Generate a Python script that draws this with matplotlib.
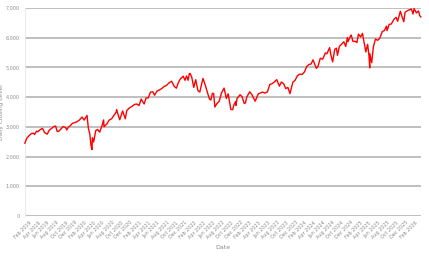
import matplotlib
matplotlib.use("Agg")
import matplotlib.pyplot as plt
import matplotlib.dates as mdates
import matplotlib.ticker as mticker
import pandas as pd

# S&P 500 style daily closing level (approximate)
dates = [
    "2019-01-03", "2019-01-15", "2019-01-31", "2019-02-15", "2019-02-28", "2019-03-08",
    "2019-03-21", "2019-03-29", "2019-04-15", "2019-04-30", "2019-05-13", "2019-05-31",
    "2019-06-14", "2019-06-28", "2019-07-15", "2019-07-26", "2019-08-05", "2019-08-15",
    "2019-08-30", "2019-09-13", "2019-09-30", "2019-10-08", "2019-10-18", "2019-10-31",
    "2019-11-15", "2019-11-29", "2019-12-13", "2019-12-31",
    "2020-01-17", "2020-01-31", "2020-02-19", "2020-02-28", "2020-03-09", "2020-03-16",
    "2020-03-23", "2020-03-26", "2020-04-03", "2020-04-17", "2020-04-30", "2020-05-13",
    "2020-05-29", "2020-06-08", "2020-06-11", "2020-06-30", "2020-07-15", "2020-07-31",
    "2020-08-14", "2020-08-31", "2020-09-02", "2020-09-23", "2020-10-12", "2020-10-30",
    "2020-11-09", "2020-11-27", "2020-12-15", "2020-12-31",
    "2021-01-15", "2021-01-29", "2021-02-12", "2021-03-04", "2021-03-17", "2021-03-31",
    "2021-04-15", "2021-04-30", "2021-05-12", "2021-05-28", "2021-06-15", "2021-06-30",
    "2021-07-15", "2021-07-30", "2021-08-16", "2021-09-02", "2021-09-20", "2021-10-04",
    "2021-10-15", "2021-10-29", "2021-11-18", "2021-11-30", "2021-12-10", "2021-12-20",
    "2021-12-29",
    "2022-01-03", "2022-01-14", "2022-01-27", "2022-02-09", "2022-02-23", "2022-03-08",
    "2022-03-29", "2022-04-14", "2022-04-29", "2022-05-12", "2022-05-20", "2022-05-31",
    "2022-06-08", "2022-06-16", "2022-06-30", "2022-07-15", "2022-07-29", "2022-08-16",
    "2022-08-31", "2022-09-12", "2022-09-30", "2022-10-12", "2022-10-21", "2022-11-01",
    "2022-11-03", "2022-11-10", "2022-11-30", "2022-12-13", "2022-12-28",
    "2023-01-05", "2023-01-13", "2023-02-02", "2023-02-16", "2023-03-10", "2023-03-31",
    "2023-04-14", "2023-04-28", "2023-05-15", "2023-05-31", "2023-06-15", "2023-06-30",
    "2023-07-14", "2023-07-31", "2023-08-18", "2023-08-31", "2023-09-15", "2023-09-29",
    "2023-10-13", "2023-10-27", "2023-11-15", "2023-11-30", "2023-12-15", "2023-12-29",
    "2024-01-16", "2024-01-31", "2024-02-15", "2024-02-29", "2024-03-15", "2024-03-28",
    "2024-04-19", "2024-04-30", "2024-05-15", "2024-05-31", "2024-06-18", "2024-06-28",
    "2024-07-16", "2024-07-24", "2024-08-05", "2024-08-19", "2024-08-30", "2024-09-06",
    "2024-09-19", "2024-09-30", "2024-10-18", "2024-10-31", "2024-11-11", "2024-11-15",
    "2024-11-29", "2024-12-06", "2024-12-18", "2024-12-31",
    "2025-01-13", "2025-01-23", "2025-02-07", "2025-02-19", "2025-03-13", "2025-03-25",
    "2025-04-03", "2025-04-08", "2025-04-09", "2025-04-21", "2025-05-02", "2025-05-16",
    "2025-05-30", "2025-06-13", "2025-06-30", "2025-07-15", "2025-07-28", "2025-08-01",
    "2025-08-15", "2025-08-29", "2025-09-15", "2025-09-30", "2025-10-10", "2025-10-28",
    "2025-11-07", "2025-11-20", "2025-11-28", "2025-12-11", "2025-12-24",
    "2026-01-09", "2026-01-20", "2026-01-27", "2026-02-12", "2026-02-25", "2026-03-06",
    "2026-03-13",
]
closes = [
    2448, 2610, 2704, 2775, 2784, 2743,
    2855, 2834, 2906, 2946, 2812, 2752,
    2887, 2942, 3014, 3026, 2845, 2848,
    2926, 3007, 2977, 2893, 2986, 3038,
    3120, 3141, 3169, 3231,
    3330, 3226, 3386, 2954, 2747, 2386,
    2237, 2630, 2489, 2875, 2912, 2820,
    3044, 3232, 3002, 3100, 3227, 3271,
    3373, 3500, 3580, 3237, 3534, 3270,
    3550, 3638, 3694, 3756,
    3768, 3714, 3934, 3768, 3974, 3973,
    4170, 4181, 4063, 4204, 4246, 4297,
    4360, 4395, 4479, 4537, 4358, 4300,
    4471, 4605, 4704, 4567, 4712, 4568,
    4793,
    4796, 4662, 4326, 4587, 4225, 4170,
    4631, 4392, 4132, 3930, 3901, 4132,
    4116, 3666, 3785, 3863, 4130, 4305,
    3955, 4110, 3586, 3577, 3752, 3856,
    3720, 3956, 4080, 4019, 3783,
    3808, 3999, 4179, 4090, 3862, 4109,
    4137, 4169, 4136, 4180, 4425, 4450,
    4505, 4589, 4370, 4508, 4450, 4288,
    4327, 4117, 4502, 4568, 4719, 4770,
    4766, 4846, 5030, 5096, 5117, 5254,
    4967, 5036, 5308, 5278, 5487, 5460,
    5667, 5427, 5186, 5608, 5648, 5408,
    5713, 5762, 5864, 5705, 6001, 5870,
    6032, 6090, 5872, 5882,
    5836, 6119, 6026, 6144, 5521, 5777,
    5396, 4983, 5457, 5158, 5686, 5958,
    5912, 5977, 6205, 6244, 6390, 6238,
    6450, 6460, 6615, 6688, 6553, 6891,
    6728, 6539, 6849, 6901, 6932,
    6966, 6797, 6978, 6833, 6900, 6740,
    6700,
]

x = pd.to_datetime(dates)

fig = plt.figure(figsize=(4.29, 2.58), dpi=100)
ax = fig.add_axes([0.058, 0.163, 0.923, 0.806])

ax.plot(x, closes, color="#ff0000", lw=1.0, clip_on=False, zorder=3)

ax.set_xlim(x[0], x[-1])
ax.set_ylim(0, 7000)
ax.yaxis.set_major_locator(mticker.MultipleLocator(1000))
ax.yaxis.set_major_formatter(mticker.StrMethodFormatter("{x:,.0f}"))
ax.xaxis.set_major_locator(mdates.MonthLocator(bymonth=[2, 4, 6, 8, 10, 12]))
ax.xaxis.set_major_formatter(mdates.DateFormatter("%b %Y"))

ax.grid(axis="y", color="#b4b4b4", lw=1.2)
ax.set_axisbelow(True)
for s in ["top", "right", "bottom"]:
    ax.spines[s].set_visible(False)
ax.spines["left"].set_color("#e6e6e6")
ax.spines["left"].set_linewidth(0.6)

ax.tick_params(axis="both", length=0, colors="#8c8c8c", labelsize=3.5)
ax.tick_params(axis="y", pad=4)
ax.tick_params(axis="x", pad=3)
plt.setp(ax.get_xticklabels(), rotation=45, ha="right", rotation_mode="anchor")

ax.set_xlabel("Date", fontsize=4.5, color="#8c8c8c", labelpad=3)
ax.set_ylabel("Daily Closing Level", fontsize=4.2, color="#8c8c8c")
ax.yaxis.set_label_coords(-0.053, 0.5)

fig.savefig("out.png", dpi=100)
